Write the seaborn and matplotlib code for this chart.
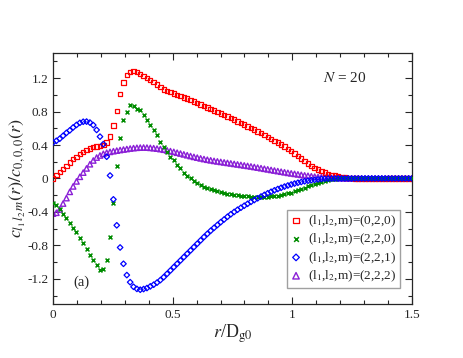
import numpy as np
import matplotlib
matplotlib.use("Agg")
import matplotlib.pyplot as plt
import seaborn as sns
from matplotlib.ticker import MultipleLocator, FixedLocator, FixedFormatter

# ===============================================
# Data: c_{l1 l2 m}(r) / c_{000}(r), N = 20
# ===============================================
r = np.linspace(0, 1.5, 108)   # uniform r/D_g0 grid of the simulation

c020 = [0.00, 0.04, 0.08, 0.11, 0.15, 0.19, 0.23, 0.26, 0.29, 0.315,
        0.34, 0.36, 0.375, 0.383, 0.387, 0.40, 0.43, 0.50, 0.635, 0.81,
        1.01, 1.146, 1.234, 1.27, 1.282, 1.27, 1.25, 1.225, 1.20, 1.175,
        1.15, 1.125, 1.09, 1.065, 1.048, 1.032, 1.016, 1.00, 0.985, 0.97,
        0.954, 0.938, 0.921, 0.904, 0.886, 0.868, 0.85, 0.832, 0.814, 0.796,
        0.778, 0.76, 0.742, 0.723, 0.703, 0.683, 0.663, 0.643, 0.623, 0.603,
        0.583, 0.562, 0.541, 0.52, 0.497, 0.474, 0.451, 0.428, 0.404, 0.38,
        0.355, 0.328, 0.30, 0.27, 0.24, 0.21, 0.18, 0.152, 0.127, 0.105,
        0.086, 0.07, 0.056, 0.044, 0.034, 0.026, 0.019, 0.013, 0.008, 0.004,
        0.001, -0.002, -0.004, -0.005, -0.006, -0.006, -0.006, -0.005, -0.004, -0.003,
        -0.002, -0.001, 0.0, 0.0, 0.0, 0.0, 0.0, 0.0]

c220 = [-0.29, -0.32, -0.36, -0.42, -0.475, -0.53, -0.595, -0.645, -0.715, -0.775,
        -0.845, -0.91, -0.975, -1.04, -1.09, -1.085, -0.97, -0.70, -0.29, 0.15,
        0.48, 0.695, 0.80, 0.875, 0.866, 0.835, 0.815, 0.755, 0.695, 0.64,
        0.575, 0.515, 0.44, 0.38, 0.315, 0.26, 0.215, 0.165, 0.12, 0.07,
        0.03, 0.0, -0.03, -0.055, -0.078, -0.097, -0.115, -0.13, -0.143, -0.155,
        -0.165, -0.174, -0.182, -0.189, -0.195, -0.20, -0.205, -0.209, -0.213, -0.216,
        -0.218, -0.219, -0.219, -0.218, -0.216, -0.213, -0.209, -0.204, -0.197, -0.189,
        -0.179, -0.168, -0.155, -0.141, -0.126, -0.11, -0.094, -0.078, -0.063, -0.049,
        -0.037, -0.026, -0.017, -0.01, -0.004, 0.0, 0.003, 0.005, 0.006, 0.006,
        0.006, 0.005, 0.004, 0.003, 0.002, 0.001, 0.0, 0.0, 0.0, 0.0,
        0.0, 0.0, 0.0, 0.0, 0.0, 0.0, 0.0, 0.0]

c221 = [0.43, 0.45, 0.475, 0.51, 0.545, 0.575, 0.61, 0.64, 0.665, 0.678,
        0.68, 0.668, 0.638, 0.58, 0.50, 0.41, 0.26, 0.035, -0.25, -0.56,
        -0.825, -1.02, -1.155, -1.24, -1.295, -1.32, -1.33, -1.322, -1.31, -1.29,
        -1.27, -1.245, -1.215, -1.18, -1.14, -1.10, -1.06, -1.02, -0.98, -0.94,
        -0.90, -0.86, -0.82, -0.78, -0.74, -0.70, -0.662, -0.625, -0.59, -0.556,
        -0.522, -0.49, -0.458, -0.428, -0.40, -0.374, -0.35, -0.326, -0.303, -0.28,
        -0.258, -0.237, -0.216, -0.196, -0.177, -0.159, -0.142, -0.126, -0.111, -0.097,
        -0.084, -0.072, -0.061, -0.051, -0.042, -0.034, -0.027, -0.021, -0.016, -0.011,
        -0.007, -0.004, -0.002, -0.001, 0.0, 0.0, 0.0, 0.0, 0.0, 0.0,
        0.0, 0.0, 0.0, 0.0, 0.0, 0.0, 0.0, 0.0, 0.0, 0.0,
        0.0, 0.0, 0.0, 0.0, 0.0, 0.0, 0.0, 0.0]

c222 = [-0.42, -0.41, -0.37, -0.30, -0.235, -0.16, -0.095, -0.035, 0.02, 0.07,
        0.12, 0.17, 0.215, 0.25, 0.275, 0.295, 0.308, 0.318, 0.326, 0.333,
        0.34, 0.346, 0.352, 0.358, 0.363, 0.367, 0.369, 0.37, 0.369, 0.366,
        0.362, 0.357, 0.351, 0.344, 0.336, 0.327, 0.318, 0.308, 0.298, 0.288,
        0.278, 0.268, 0.258, 0.249, 0.24, 0.232, 0.224, 0.217, 0.21, 0.204,
        0.198, 0.192, 0.186, 0.18, 0.174, 0.168, 0.162, 0.156, 0.15, 0.144,
        0.137, 0.13, 0.123, 0.116, 0.109, 0.102, 0.095, 0.088, 0.081, 0.074,
        0.067, 0.061, 0.055, 0.049, 0.043, 0.037, 0.032, 0.027, 0.022, 0.018,
        0.015, 0.012, 0.009, 0.007, 0.005, 0.004, 0.003, 0.002, 0.001, 0.0,
        0.0, 0.0, 0.0, 0.0, 0.0, 0.0, 0.0, 0.0, 0.0, 0.0,
        0.0, 0.0, 0.0, 0.0, 0.0, 0.0, 0.0, 0.0]

labels = [r"(l$_1$,l$_2$,m)=(0,2,0)", r"(l$_1$,l$_2$,m)=(2,2,0)",
          r"(l$_1$,l$_2$,m)=(2,2,1)", r"(l$_1$,l$_2$,m)=(2,2,2)"]

# ===============================================
# Style
# ===============================================
sns.set_style("ticks")
plt.rcParams["font.family"] = ["Liberation Serif", "DejaVu Serif"]
plt.rcParams["mathtext.fontset"] = "stix"
plt.rcParams["axes.unicode_minus"] = False

fig = plt.figure(figsize=(4.63, 3.58), dpi=100)
ax = fig.add_axes([0.1145, 0.151, 0.7753, 0.701])

sns.scatterplot(x=r, y=c020, ax=ax, marker="s", s=10, facecolor="none",
                edgecolor="#ff0000", linewidth=0.9, label=labels[0], zorder=3)
sns.scatterplot(x=r, y=c220, ax=ax, marker="x", s=8, color="#008c00",
                linewidth=1.1, label=labels[1], zorder=4)
sns.scatterplot(x=r, y=c221, ax=ax, marker="D", s=8, facecolor="none",
                edgecolor="#0000ff", linewidth=0.9, label=labels[2], zorder=5)
sns.scatterplot(x=r, y=c222, ax=ax, marker="^", s=15, facecolor="none",
                edgecolor="#8a1fd6", linewidth=1.0, label=labels[3], zorder=2)

ax.set_xlim(0, 1.5)
ax.set_ylim(-1.5, 1.5)
ax.xaxis.set_major_locator(FixedLocator([0, 0.5, 1, 1.5]))
ax.xaxis.set_major_formatter(FixedFormatter(["0", "0.5", "1", "1.5"]))
ax.xaxis.set_minor_locator(MultipleLocator(0.1))
yt = [-1.2, -0.8, -0.4, 0, 0.4, 0.8, 1.2]
ax.yaxis.set_major_locator(FixedLocator(yt))
ax.yaxis.set_major_formatter(FixedFormatter(["-1.2", "-0.8", "-0.4", "0", "0.4", "0.8", "1.2"]))
ax.yaxis.set_minor_locator(MultipleLocator(0.2))
ax.tick_params(which="both", direction="in", top=True, right=True, labelsize=9.5, width=0.8)
ax.tick_params(which="major", length=5)
ax.tick_params(which="minor", length=3)
for sp in ax.spines.values():
    sp.set_linewidth(0.9)

ax.set_xlabel(r"$r$/D$_{\mathrm{g0}}$", fontsize=13, labelpad=1)
ax.set_ylabel(r"$c_{l_1\,l_2\,m}(r)/c_{0,0,0}(r)$", fontsize=13, labelpad=0)

ax.text(1.13, 1.2, r"$N$ = 20", fontsize=11, ha="left", va="center")
ax.text(0.12, -1.24, "(a)", fontsize=10.5, ha="center", va="center")

leg = ax.legend(loc="lower right", bbox_to_anchor=(0.967, 0.064), borderaxespad=0,
                fontsize=9.5, frameon=True, fancybox=False, handlelength=0.8,
                handletextpad=0.5, labelspacing=0.22, borderpad=0.3,
                markerscale=1.2)
leg.get_frame().set_edgecolor("#888888")
leg.get_frame().set_linewidth(1.0)

plt.savefig("out.png", dpi=100)
plt.close()
